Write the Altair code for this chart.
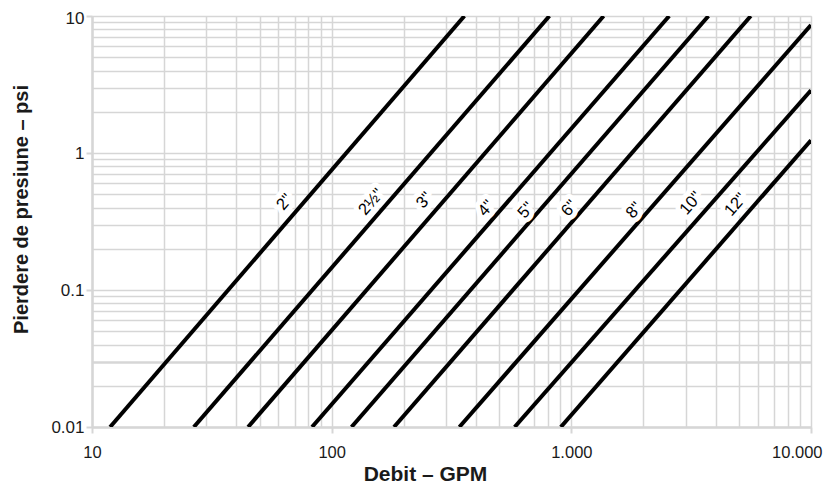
import altair as alt
import pandas as pd

# ---- data ----
sizes = ['2"', '2½"', '3"', '4"', '5"', '6"', '8"', '10"', '12"']
gpm_start = [11.9, 26.6, 44.8, 82.8, 121, 182, 341, 580, 904]
psi_start = [0.01, 0.01, 0.01, 0.01, 0.01, 0.01, 0.01, 0.01, 0.01]
gpm_end = [358, 810, 1364, 2560, 3733, 5607, 10000, 10000, 10000]
psi_end = [10, 10, 10, 10, 10, 10, 8.6, 2.87, 1.24]

label_gpm = [63.7, 146, 244, 441, 647, 981, 1830, 3155, 4853]
label_psi = [0.439, 0.439, 0.452, 0.395, 0.382, 0.395, 0.382, 0.43, 0.42]

x_decades = [10, 100, 1000, 10000]
y_decades = [0.01, 0.1, 1, 10]
multipliers = [1, 2, 3, 4, 5, 6, 7, 8, 9]

x_grid = [d * m for d in x_decades[:-1] for m in multipliers] + [x_decades[-1]]
y_grid = [round(d * m, 4) for d in y_decades[:-1] for m in multipliers] + [y_decades[-1]]

rows = []
for s, g0, p0, g1, p1 in zip(sizes, gpm_start, psi_start, gpm_end, psi_end):
    rows.append({"size": s, "gpm": g0, "psi": p0, "o": 0})
    rows.append({"size": s, "gpm": g1, "psi": p1, "o": 1})
lines_df = pd.DataFrame(rows)
labels_df = pd.DataFrame({"size": sizes, "gpm": label_gpm, "psi": label_psi})

FONT = "Liberation Sans, Arial, sans-serif"
GRID = "#d6d6d6"
INK = "#1a1a1a"
DECADE = "abs(log(datum.value)/LN10 - round(log(datum.value)/LN10)) < 1e-6"

x_scale = alt.Scale(type="log", domain=[10, 10000], nice=False)
y_scale = alt.Scale(type="log", domain=[0.01, 10], nice=False)

x_axis = alt.Axis(
    values=x_grid,
    title="Debit – GPM",
    titleFont=FONT, titleFontSize=21, titleFontWeight="bold", titleColor=INK,
    titleX=333, titleY=53, titleBaseline="alphabetic", titleAlign="center",
    labelExpr=f"{DECADE} ? replace(format(datum.value, ','), ',', '.') : ''",
    labelFont=FONT, labelFontSize=16.5, labelColor=INK,
    labelBaseline="alphabetic", labelPadding=24, labelOverlap=False, labelBound=False,
    labelFlush=False,
    labelAlign={"condition": {"test": "datum.value == 10000", "value": "right"}, "value": "center"},
    labelOffset={"condition": {"test": "datum.value == 10000", "value": 11}, "value": 0},
    tickSize=6, tickColor=GRID, tickWidth=2,
    tickOpacity={"condition": {"test": DECADE, "value": 1}, "value": 0},
    grid=True, gridColor=GRID, gridWidth=1.5,
    domainColor=GRID, domainWidth=2.5,
)

y_axis = alt.Axis(
    values=y_grid,
    title="Pierdere de presiune – psi",
    titleFont=FONT, titleFontSize=20, titleFontWeight="bold", titleColor=INK,
    titleX=-65, titleY=193, titleBaseline="alphabetic", titleAngle=270, titleAlign="center",
    labelExpr=f"{DECADE} ? format(datum.value, '') : ''",
    labelFont=FONT, labelFontSize=17, labelColor=INK,
    labelAlign="right", labelBaseline="middle", labelPadding=2, labelOverlap=False,
    labelBound=False, labelFlush=False,
    labelOffset={"condition": {"test": "datum.value == 10", "value": 2}, "value": 0},
    tickSize=6, tickColor=GRID, tickWidth=2,
    tickOpacity={"condition": {"test": DECADE, "value": 1}, "value": 0},
    grid=True, gridColor=GRID,
    gridWidth={"condition": {"test": "abs(datum.value - 0.03) < 1e-9", "value": 2.5}, "value": 1.5},
    domainColor=GRID, domainWidth=2.5,
)

lines = alt.Chart(lines_df).mark_line(color="black", strokeWidth=4, strokeCap="butt", clip=True).encode(
    x=alt.X("gpm:Q", scale=x_scale, axis=x_axis),
    y=alt.Y("psi:Q", scale=y_scale, axis=y_axis),
    detail="size:N",
    order="o:Q",
)

halo = alt.Chart(labels_df).mark_text(
    font=FONT, fontSize=16.5, angle=311, align="center", baseline="middle",
    color="white", stroke="white", strokeWidth=10, strokeJoin="round",
).encode(
    x=alt.X("gpm:Q", scale=x_scale),
    y=alt.Y("psi:Q", scale=y_scale),
    text="size:N",
)

text = alt.Chart(labels_df).mark_text(
    font=FONT, fontSize=16.5, angle=311, align="center", baseline="middle", color="black",
).encode(
    x=alt.X("gpm:Q", scale=x_scale),
    y=alt.Y("psi:Q", scale=y_scale),
    text="size:N",
)

chart = alt.layer(lines, halo, text).properties(
    width=719, height=411,
    autosize="none",
    padding={"left": 84, "top": 8, "right": 12, "bottom": 63},
).configure_view(stroke=GRID, strokeWidth=2.5).configure(background="white")

chart.save("out.html", embed_options={"renderer": "svg", "actions": False})
